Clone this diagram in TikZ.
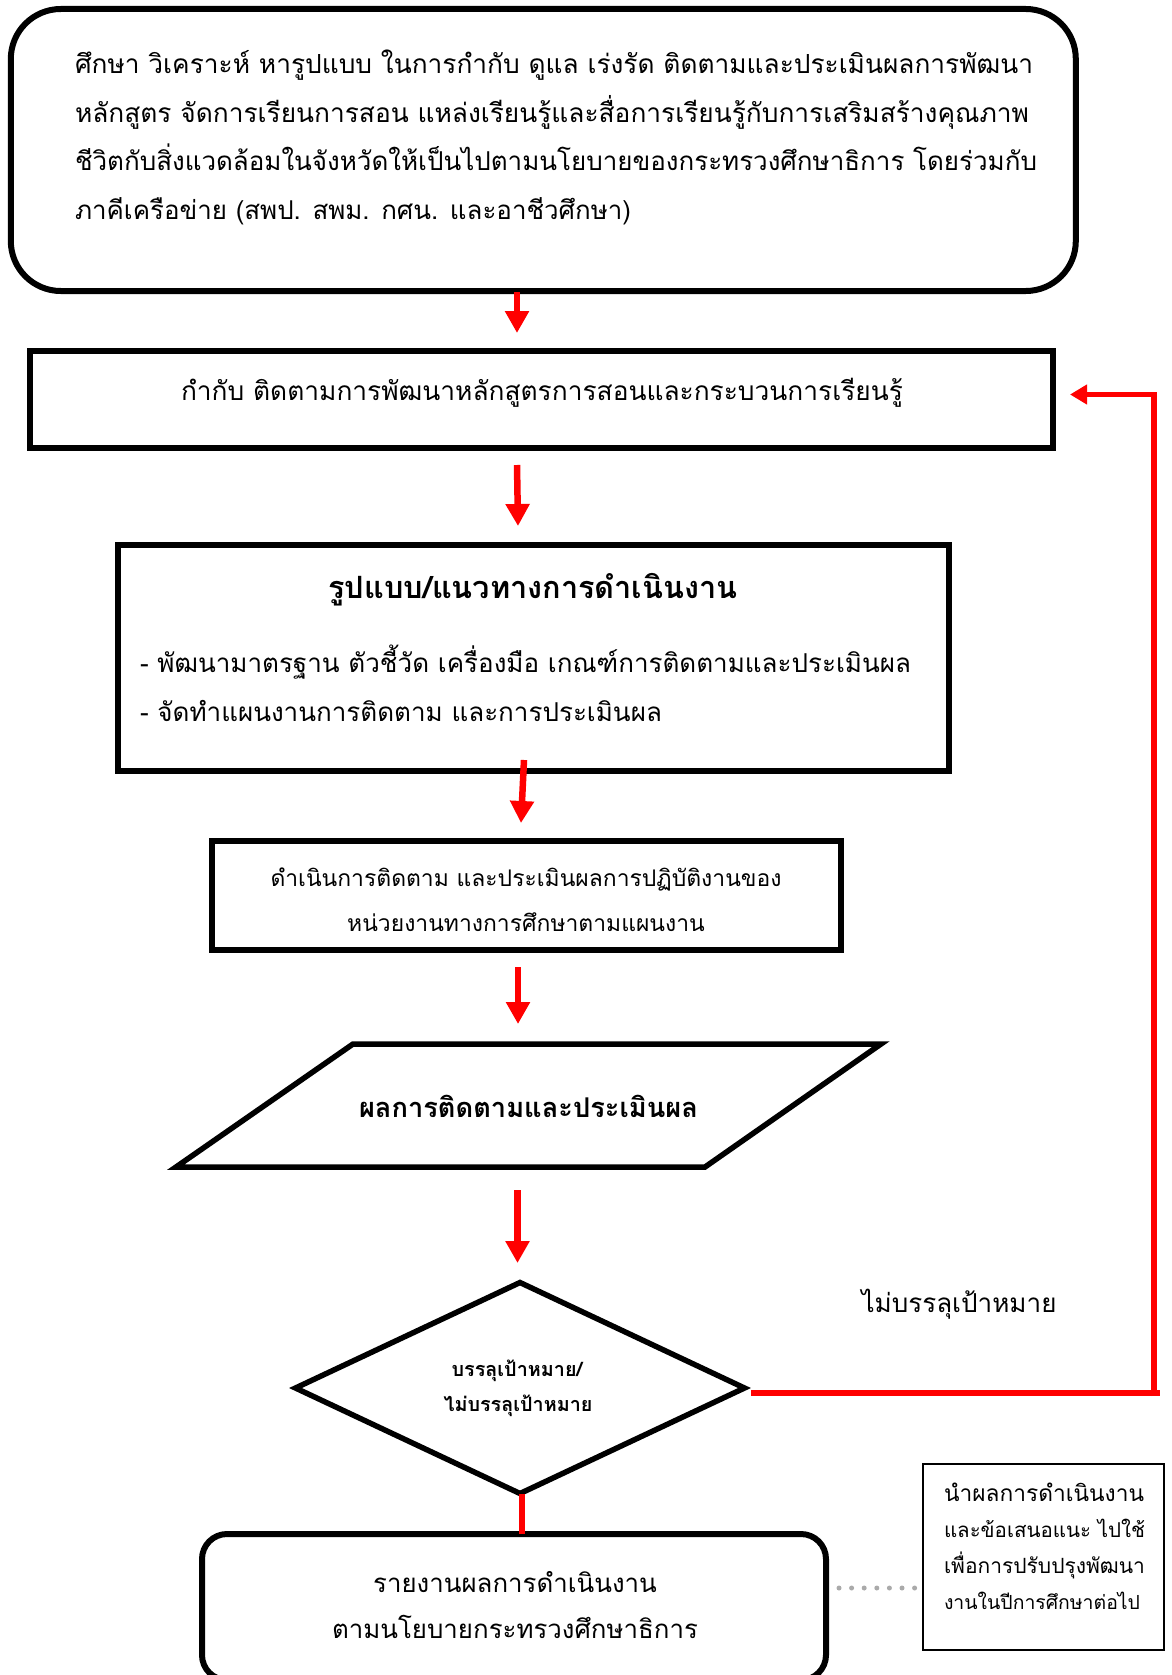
\documentclass[tikz,border=0pt]{standalone}
\usepackage{fontspec}
\usepackage{graphicx}
\setmainfont[Script=Thai]{Loma}
\usetikzlibrary{arrows.meta,shapes.geometric,calc}
\definecolor{dotgray}{RGB}{170,170,170}
\newlength\fitlen
\newcommand\setfit[3]{\settowidth\fitlen{\normalfont\fontsize{10pt}{12pt}\selectfont #3}\pgfmathsetmacro\fittmp{10*#2/\fitlen}\global\let#1\fittmp}
\newcommand\fsz[1]{\fontsize{#1pt}{#1pt}\selectfont}
\newcommand\fitw[2]{\resizebox{#1pt}{!}{#2}}
\AtBeginDocument{%
\setfit\fsTop{958}{ศึกษา วิเคราะห์ หารูปแบบ ในการกำกับ ดูแล เร่งรัด ติดตามและประเมินผลการพัฒนา}%
\setfit\fsBtwo{722}{กำกับ ติดตามการพัฒนาหลักสูตรการสอนและกระบวนการเรียนรู้}%
\setfit\fsTitle{409}{\bfseries รูปแบบ/แนวทางการดำเนินงาน}%
\setfit\fsBul{771}{- พัฒนามาตรฐาน ตัวชี้วัด เครื่องมือ เกณฑ์การติดตามและประเมินผล}%
\setfit\fsBfour{511}{ดำเนินการติดตาม และประเมินผลการปฏิบัติงานของ}%
\setfit\fsPar{339}{\bfseries ผลการติดตามและประเมินผล}%
\setfit\fsDia{149}{\bfseries ไม่บรรลุเป้าหมาย}%
\setfit\fsLab{195}{ไม่บรรลุเป้าหมาย}%
\setfit\fsRep{366}{ตามนโยบายกระทรวงศึกษาธิการ}%
\setfit\fsNote{200}{นำผลการดำเนินงาน}%
}
\tikzset{
  every node/.style={inner sep=0pt, outer sep=0pt},
  blackbox/.style={draw=black, line width=6pt},
  shapeline/.style={draw=black, line width=5.5pt},
  thinbox/.style={draw=black, line width=1.8pt},
  redarr/.style={draw=red, line width=6.5pt, -{Triangle[length=22pt,width=23pt]}},
  redarrh/.style={draw=red, line width=5pt, -{Triangle[length=17pt,width=19pt]}},
  redline/.style={draw=red, line width=5.5pt},
  dotline/.style={draw=dotgray, line width=5pt, line cap=round, dash pattern=on 0pt off 12.6pt},
  txtc/.style={anchor=base},
  txtl/.style={anchor=base west},
}
\begin{document}
\begin{tikzpicture}[x=1pt,y=-1pt]
\useasboundingbox (0,0) rectangle (1171,1675);
\fill[white] (0,0) rectangle (1171,1675);
\clip (0,0) rectangle (1171,1675);

% boxes
\node[blackbox, rounded corners=50pt, minimum width=1065pt, minimum height=282pt] (top) at (543.3,150) {};
\node[blackbox, minimum width=1023pt, minimum height=97pt] (box2) at (541.5,399.5) {};
\node[blackbox, minimum width=831pt, minimum height=226pt] (box3) at (533,658) {};
\node[blackbox, minimum width=629.5pt, minimum height=109pt] (box4) at (526.3,895.5) {};
\draw[shapeline] (353,1044) -- (881,1044) -- (705,1167) -- (176,1167) -- cycle;
\node[diamond, shapeline, minimum width=449pt, minimum height=211pt] (dec) at (520,1388) {};
\node[blackbox, rounded corners=25pt, minimum width=624pt, minimum height=146pt] (rep) at (514,1607) {};
\node[thinbox, minimum width=241pt, minimum height=186pt] (note) at (1043.5,1557) {};

% texts
\node[txtl, font=\fsz{\fsTop}] (t1) at (75,74) {\fitw{958}{ศึกษา วิเคราะห์ หารูปแบบ ในการกำกับ ดูแล เร่งรัด ติดตามและประเมินผลการพัฒนา}};
\node[txtl, font=\fsz{\fsTop}] (t2) at (75,123) {\fitw{954}{หลักสูตร จัดการเรียนการสอน แหล่งเรียนรู้และสื่อการเรียนรู้กับการเสริมสร้างคุณภาพ}};
\node[txtl, font=\fsz{\fsTop}] (t3) at (75,171) {\fitw{962}{ชีวิตกับสิ่งแวดล้อมในจังหวัดให้เป็นไปตามนโยบายของกระทรวงศึกษาธิการ โดยร่วมกับ}};
\node[txtl, font=\fsz{\fsTop}] (t4) at (75,219) {\fitw{556}{ภาคีเครือข่าย (สพป. สพม. กศน. และอาชีวศึกษา)}};
\node[txtc, font=\fsz{\fsBtwo}] (b2t) at (542,400) {กำกับ ติดตามการพัฒนาหลักสูตรการสอนและกระบวนการเรียนรู้};
\node[txtc, font=\fsz{\fsTitle}\bfseries] (b3t) at (533,598) {รูปแบบ/แนวทางการดำเนินงาน};
\node[txtl, font=\fsz{\fsBul}] (bul1) at (140,672) {- พัฒนามาตรฐาน ตัวชี้วัด เครื่องมือ เกณฑ์การติดตามและประเมินผล};
\node[txtl, font=\fsz{\fsBul}] (bul2) at (140,721) {- จัดทำแผนงานการติดตาม และการประเมินผล};
\node[txtc, font=\fsz{\fsBfour}] (b4a) at (526,886) {ดำเนินการติดตาม และประเมินผลการปฏิบัติงานของ};
\node[txtc, font=\fsz{\fsBfour}] (b4b) at (526,931) {หน่วยงานทางการศึกษาตามแผนงาน};
\node[txtc, font=\fsz{\fsPar}\bfseries] (part) at (528.5,1117) {ผลการติดตามและประเมินผล};
\node[txtc, font=\fsz{\fsDia}\bfseries] (dia1) at (517,1376) {บรรลุเป้าหมาย/};
\node[txtc, font=\fsz{\fsDia}\bfseries] (dia2) at (518,1411) {ไม่บรรลุเป้าหมาย};
\node[txtc, font=\fsz{\fsLab}] (lab) at (959,1312) {ไม่บรรลุเป้าหมาย};
\node[txtc, font=\fsz{\fsRep}] (rep1) at (515,1592) {รายงานผลการดำเนินงาน};
\node[txtc, font=\fsz{\fsRep}] (rep2) at (515,1638) {ตามนโยบายกระทรวงศึกษาธิการ};
\node[txtl, font=\fsz{\fsNote}] (n1) at (944,1501) {\fitw{200}{นำผลการดำเนินงาน}};
\node[txtl, font=\fsz{\fsNote}] (n2) at (944,1537) {\fitw{201}{และข้อเสนอแนะ ไปใช้}};
\node[txtl, font=\fsz{\fsNote}] (n3) at (944,1573) {\fitw{201}{เพื่อการปรับปรุงพัฒนา}};
\node[txtl, font=\fsz{\fsNote}] (n4) at (944,1609) {\fitw{196}{งานในปีการศึกษาต่อไป}};

% connector end points
\coordinate (a1s) at (517,292);  \coordinate (a1e) at (517,333);
\coordinate (a2s) at (517,465);  \coordinate (a2e) at (518,526);
\coordinate (a3s) at (524,760);  \coordinate (a3e) at (521,823);
\coordinate (a4s) at (518,967);  \coordinate (a4e) at (518,1024);
\coordinate (a5s) at (517.5,1190); \coordinate (a5e) at (517.5,1263);
\coordinate (ds) at (522,1494); \coordinate (re) at (522,1534);
\coordinate (fb1) at (751,1393); \coordinate (fb2) at (1160,1393);
\coordinate (fb3) at (1154,1396); \coordinate (fb4) at (1154,392);
\coordinate (fb5) at (1157,394.5); \coordinate (fb6) at (1070,394.5);
\coordinate (dt1) at (839,1588); \coordinate (dt2) at (915,1588);

% connectors
\draw[redarr] (a1s) -- (a1e);
\draw[redarr] (a2s) -- (a2e);
\draw[redarr] (a3s) -- (a3e);
\draw[redarr] (a4s) -- (a4e);
\draw[redarr] (a5s) -- (a5e);
\draw[redline] (ds) -- (re);
\draw[redline] (fb1) -- (fb2);
\draw[redline, line width=6pt] (fb3) -- (fb4);
\draw[redarrh] (fb5) -- (fb6);
\draw[dotline] (dt1) -- (dt2);
\end{tikzpicture}
\end{document}
